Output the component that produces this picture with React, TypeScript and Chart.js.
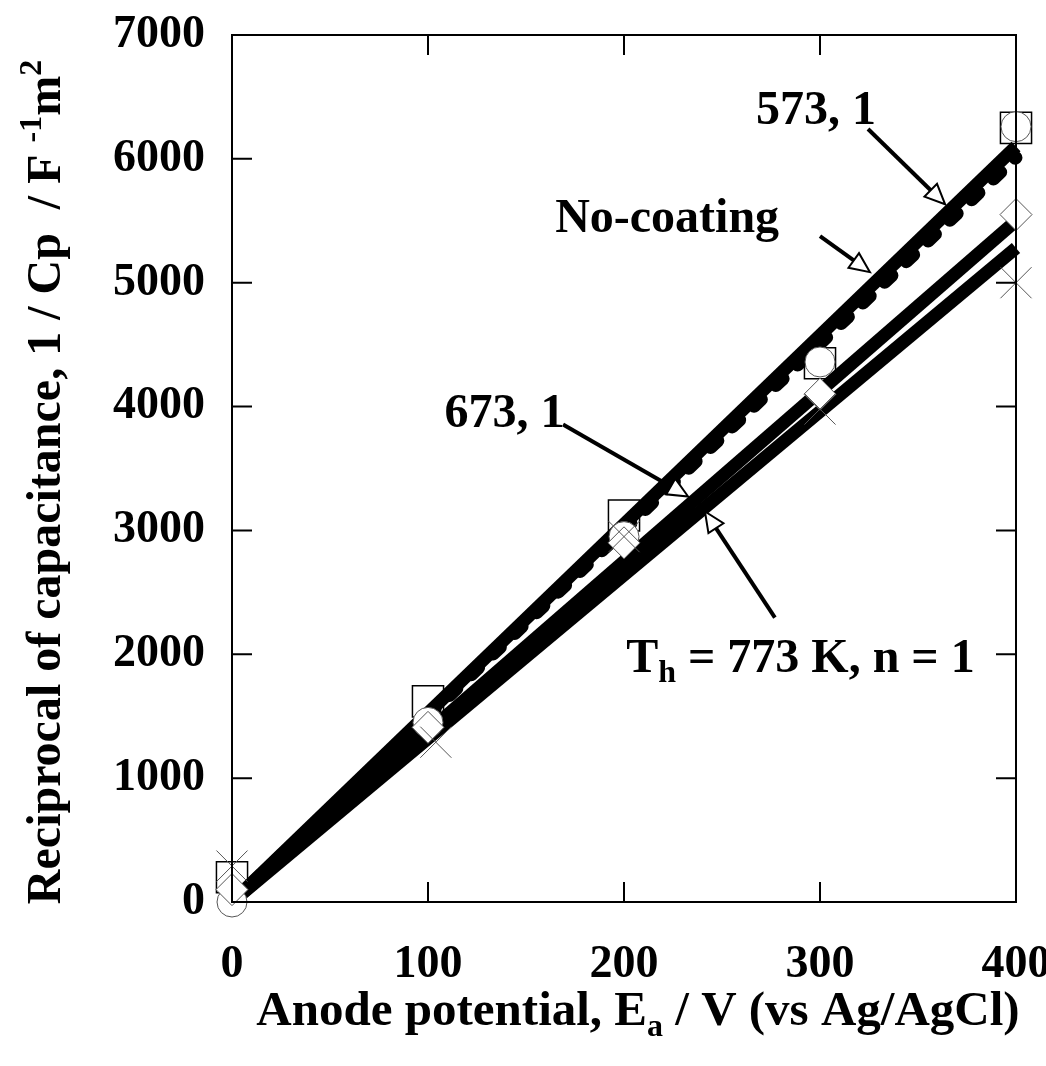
import React, { useEffect, useRef } from 'react';
import { Chart, registerables } from 'chart.js';

Chart.register(...registerables);

// ---- data ----
const xTickValues = [0, 100, 200, 300, 400];
const yTickValues = [0, 1000, 2000, 3000, 4000, 5000, 6000, 7000];

const potentials = [0, 100, 200, 300, 400];
const squareValues = [200, 1620, 3120, 4350, 6250];
const circleValues = [0, 1450, 2950, 4360, 6260];
const diamondValues = [100, 1410, 2900, 4100, 5550];
const crossPotentials = [0, 104, 200, 300, 400];
const crossValues = [290, 1290, 2950, 3980, 5000];

const fitPotentials = [0, 400];
const fit573 = [0, 6100];
const fitNoCoating = [0, 6010];
const fit673 = [0, 5500];
const fit773 = [0, 5280];

// annotation labels (data coords) and arrows (tail -> tip, data coords)
const labelTexts = ['573, 1', 'No-coating', '673, 1', 'T_h = 773 K, n = 1'];
const labelX = [298, 222, 139, 290];
const labelY = [6281, 5408, 3832, 1859];
const arrowTailX = [324.5, 300, 168.9, 277];
const arrowTailY = [6241, 5376, 3856, 2296];
const arrowTipX = [363.8, 325.5, 232.7, 241.3];
const arrowTipY = [5634, 5085, 3274, 3153];

const FONT = '"Liberation Serif", "Times New Roman", serif';

type Seg = [string, 'n' | 'sub' | 'sup'];

function drawRich(ctx: CanvasRenderingContext2D, segs: Seg[], x: number, y: number, size: number) {
  const small = Math.round(size * 0.66);
  const fontFor = (k: string) => `bold ${k === 'n' ? size : small}px ${FONT}`;
  let total = 0;
  for (const [t, k] of segs) {
    ctx.font = fontFor(k);
    total += ctx.measureText(t).width;
  }
  let cx = x - total / 2;
  ctx.textAlign = 'left';
  ctx.textBaseline = 'alphabetic';
  for (const [t, k] of segs) {
    ctx.font = fontFor(k);
    const dy = k === 'sub' ? size * 0.22 : k === 'sup' ? -size * 0.4 : 0;
    ctx.fillText(t, cx, y + dy);
    cx += ctx.measureText(t).width;
  }
}

function parseLabel(s: string): Seg[] {
  const m = s.match(/^(.*?)_(\w)(.*)$/);
  if (!m) return [[s, 'n']];
  return [[m[1], 'n'], [m[2], 'sub'], [m[3], 'n']];
}

const decorPlugin = {
  id: 'decor',
  afterDatasetsDraw(chart: any) {
    const { ctx, chartArea } = chart;
    const xs = chart.scales.x;
    const ys = chart.scales.y;
    const { left, right, top, bottom } = chartArea;
    ctx.save();
    ctx.strokeStyle = '#000';
    ctx.fillStyle = '#000';
    // frame
    ctx.lineWidth = 2;
    ctx.strokeRect(left, top, right - left, bottom - top);
    // inside ticks
    const tl = 20;
    ctx.beginPath();
    for (const v of xTickValues) {
      const px = xs.getPixelForValue(v);
      ctx.moveTo(px, bottom);
      ctx.lineTo(px, bottom - tl);
      ctx.moveTo(px, top);
      ctx.lineTo(px, top + tl);
    }
    for (const v of yTickValues) {
      const py = ys.getPixelForValue(v);
      ctx.moveTo(left, py);
      ctx.lineTo(left + tl, py);
      ctx.moveTo(right, py);
      ctx.lineTo(right - tl, py);
    }
    ctx.stroke();

    // arrows
    for (let i = 0; i < labelTexts.length; i++) {
      const x0 = xs.getPixelForValue(arrowTailX[i]);
      const y0 = ys.getPixelForValue(arrowTailY[i]);
      const x1 = xs.getPixelForValue(arrowTipX[i]);
      const y1 = ys.getPixelForValue(arrowTipY[i]);
      const ang = Math.atan2(y1 - y0, x1 - x0);
      const hl = 20;
      const hw = 9;
      const bx = x1 - hl * Math.cos(ang);
      const by = y1 - hl * Math.sin(ang);
      ctx.lineWidth = 4;
      ctx.beginPath();
      ctx.moveTo(x0, y0);
      ctx.lineTo(bx, by);
      ctx.stroke();
      ctx.beginPath();
      ctx.moveTo(x1, y1);
      ctx.lineTo(bx + hw * Math.sin(ang), by - hw * Math.cos(ang));
      ctx.lineTo(bx - hw * Math.sin(ang), by + hw * Math.cos(ang));
      ctx.closePath();
      ctx.fillStyle = '#fff';
      ctx.fill();
      ctx.lineWidth = 2;
      ctx.stroke();
      ctx.fillStyle = '#000';
    }
    // labels
    for (let i = 0; i < labelTexts.length; i++) {
      drawRich(ctx, parseLabel(labelTexts[i]), xs.getPixelForValue(labelX[i]), ys.getPixelForValue(labelY[i]), 48);
    }

    // axis titles
    drawRich(ctx, [['Anode potential, E', 'n'], ['a', 'sub'], [' / V (vs Ag/AgCl)', 'n']], 638, 1025, 49);
    ctx.save();
    ctx.translate(60, 482);
    ctx.rotate(-Math.PI / 2);
    drawRich(ctx, [['Reciprocal of capacitance, 1 / Cp  / F ', 'n'], ['-1', 'sup'], ['m', 'n'], ['2', 'sup']], 0, 0, 48);
    ctx.restore();
    ctx.restore();
  },
};

export default function App() {
  const ref = useRef<HTMLCanvasElement | null>(null);
  useEffect(() => {
    if (!ref.current) return;
    const pts = (xa: number[], ya: number[]) => xa.map((x, i) => ({ x, y: ya[i] }));
    const fitLine = (vals: number[], dashed: boolean, order: number) => ({
      type: 'line' as const,
      data: pts(fitPotentials, vals),
      borderColor: '#000',
      backgroundColor: '#000',
      borderWidth: 13,
      borderDash: dashed ? [10, 20] : [],
      borderCapStyle: dashed ? ('round' as const) : ('butt' as const),
      pointRadius: 0,
      showLine: true,
      fill: false,
      clip: false as any,
      order,
    });
    const chart = new Chart(ref.current, {
      type: 'scatter',
      data: {
        datasets: [
          {
            data: pts(potentials, squareValues),
            pointStyle: 'rect',
            pointRadius: 22,
            borderColor: '#000',
            backgroundColor: 'rgba(0,0,0,0)',
            borderWidth: 1.5,
            clip: false as any,
            order: 10,
          } as any,
          fitLine(fit773, false, 6),
          fitLine(fit673, false, 6),
          fitLine(fitNoCoating, true, 6),
          fitLine(fit573, false, 6),
          {
            data: pts(potentials, circleValues),
            pointStyle: 'circle',
            pointRadius: 15,
            borderColor: '#555',
            backgroundColor: '#fff',
            borderWidth: 1,
            clip: false as any,
            order: 3,
          },
          {
            data: pts(potentials, diamondValues),
            pointStyle: 'rectRot',
            pointRadius: 16,
            borderColor: '#555',
            backgroundColor: '#fff',
            borderWidth: 1,
            clip: false as any,
            order: 2,
          },
          {
            data: pts(crossPotentials, crossValues),
            pointStyle: 'crossRot',
            pointRadius: 22,
            borderColor: '#555',
            backgroundColor: '#555',
            borderWidth: 1,
            clip: false as any,
            order: 1,
          },
        ],
      },
      options: {
        responsive: false,
        animation: false,
        events: [],
        plugins: { legend: { display: false }, tooltip: { enabled: false } },
        layout: { padding: { top: 35, right: 30, left: 0, bottom: 0 } },
        scales: {
          x: {
            type: 'linear',
            min: 0,
            max: 400,
            afterBuildTicks: (s: any) => {
              s.ticks = xTickValues.map((v) => ({ value: v }));
            },
            ticks: {
              color: '#000',
              font: { family: FONT, size: 46, weight: 'bold' },
              padding: 36,
              maxRotation: 0,
              autoSkip: false,
              callback: (v: any) => String(v),
            },
            grid: { display: false, drawTicks: false },
            border: { display: false },
            afterFit: (s: any) => {
              s.height = 164;
              s.paddingLeft = 0;
              s.paddingRight = 0;
            },
          },
          y: {
            type: 'linear',
            min: 0,
            max: 7000,
            afterBuildTicks: (s: any) => {
              s.ticks = yTickValues.map((v) => ({ value: v }));
            },
            ticks: {
              color: '#000',
              font: { family: FONT, size: 46, weight: 'bold' },
              padding: 27,
              autoSkip: false,
              callback: (v: any) => String(v),
            },
            grid: { display: false, drawTicks: false },
            border: { display: false },
            afterFit: (s: any) => {
              s.width = 232;
              s.paddingTop = 0;
              s.paddingBottom = 0;
            },
          },
        },
      } as any,
      plugins: [decorPlugin],
    });
    return () => chart.destroy();
  }, []);
  return (
    <div style={{ position: 'absolute', left: 0, top: 0, width: 1046, height: 1066, background: '#fff' }}>
      <canvas ref={ref} width={1046} height={1066} style={{ display: 'block' }} />
    </div>
  );
}
